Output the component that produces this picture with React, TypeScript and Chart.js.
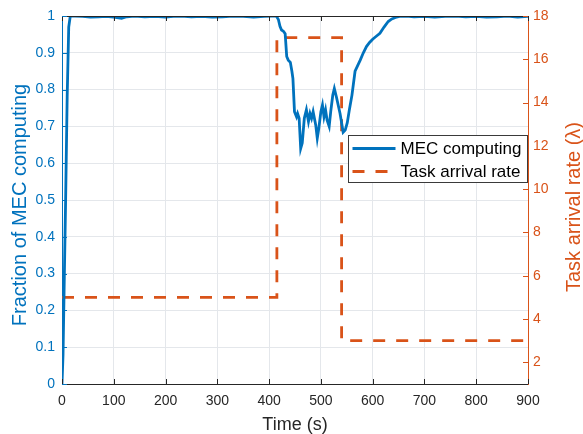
import React, { useEffect, useRef } from "react";
import { Chart, registerables } from "chart.js";

Chart.register(...registerables);

// MEC computing fraction over time
const mecTime = [
  0, 2, 4, 7, 10, 13, 16, 25, 40, 55, 70, 85, 100, 115, 125, 140, 160, 180, 200, 215, 230, 250,
  270, 290, 310, 330, 350, 370, 390, 405, 414, 418, 421, 424, 428, 431, 434, 437, 441, 444, 446,
  449, 453, 455, 458, 461, 464, 468, 472, 476, 479, 482, 485, 490, 493, 496, 500, 503, 506, 509,
  512, 516, 519, 523, 526, 530, 537, 543, 547, 551, 555, 560, 566, 571, 576, 582, 588, 594, 600,
  607, 614, 622, 630, 637, 644, 652, 665, 680, 700, 720, 740, 760, 780, 800, 820, 840, 860, 880, 900,
];
const mecFraction = [
  0, 0.08, 0.25, 0.5, 0.78, 0.97, 1, 1, 0.999, 0.997, 0.998, 0.999, 0.997, 0.994, 0.998, 1, 0.998,
  0.999, 0.997, 0.999, 1, 0.998, 0.999, 0.997, 0.998, 1, 0.999, 0.997, 0.999, 1, 1, 0.99, 0.972,
  0.962, 0.958, 0.952, 0.89, 0.88, 0.874, 0.85, 0.83, 0.74, 0.726, 0.735, 0.722, 0.64, 0.655,
  0.722, 0.745, 0.713, 0.735, 0.722, 0.74, 0.704, 0.668, 0.695, 0.74, 0.758, 0.726, 0.745, 0.717,
  0.7, 0.74, 0.785, 0.803, 0.78, 0.735, 0.684, 0.69, 0.71, 0.745, 0.785, 0.85, 0.865, 0.88, 0.9,
  0.917, 0.928, 0.937, 0.945, 0.953, 0.97, 0.985, 0.992, 0.996, 0.999, 1, 0.998, 0.999, 0.997,
  0.999, 1, 0.998, 0.999, 0.997, 0.998, 1, 0.997, 0.999,
];

// Task arrival rate (step profile)
const rateTime = [0, 415, 415, 540, 540, 900];
const rateValue = [5, 5, 17, 17, 3, 3];

const timeTicks = [0, 100, 200, 300, 400, 500, 600, 700, 800, 900];
const fractionTicks = [0, 0.1, 0.2, 0.3, 0.4, 0.5, 0.6, 0.7, 0.8, 0.9, 1];
const rateTicks = [2, 4, 6, 8, 10, 12, 14, 16, 18];

const xTitle = "Time (s)";
const yTitle = "Fraction of MEC computing";
const y1Title = "Task arrival rate (λ)";

const BLUE = "#0072BD";
const ORANGE = "#D95319";
const DARK = "#262626";
const GRID = "#e4e7eb";
const FONT = "'Liberation Sans', Arial, Helvetica, sans-serif";

const setTicks = (values: number[]) => (scale: any) => {
  scale.ticks = values.map((v) => ({ value: v }));
};
const plainLabel = (v: any) => String(Number(Number(v).toFixed(3)));

// Inward tick marks, top frame line, axis titles and an in-plot legend
const framePlugin = {
  id: "frame",
  afterDatasetsDraw(chart: any) {
    const { ctx, chartArea } = chart;
    const { left, right, top, bottom } = chartArea;
    const len = 5;
    ctx.save();
    ctx.lineWidth = 1;

    ctx.strokeStyle = DARK;
    ctx.beginPath();
    ctx.moveTo(left, top + 0.5);
    ctx.lineTo(right, top + 0.5);
    const xs = chart.scales.x;
    xs.ticks.forEach((t: any) => {
      const px = Math.round(xs.getPixelForValue(t.value)) + 0.5;
      ctx.moveTo(px, bottom);
      ctx.lineTo(px, bottom - len);
      ctx.moveTo(px, top);
      ctx.lineTo(px, top + len);
    });
    ctx.stroke();

    const ys = chart.scales.y;
    ctx.strokeStyle = BLUE;
    ctx.beginPath();
    ys.ticks.forEach((t: any) => {
      const py = Math.round(ys.getPixelForValue(t.value)) + 0.5;
      ctx.moveTo(left, py);
      ctx.lineTo(left + len, py);
    });
    ctx.stroke();

    const yr = chart.scales.y1;
    ctx.strokeStyle = ORANGE;
    ctx.beginPath();
    yr.ticks.forEach((t: any) => {
      const py = Math.round(yr.getPixelForValue(t.value)) + 0.5;
      ctx.moveTo(right, py);
      ctx.lineTo(right - len, py);
    });
    ctx.stroke();

    // axis titles
    ctx.textAlign = "center";
    ctx.textBaseline = "alphabetic";
    ctx.font = `18px ${FONT}`;
    ctx.fillStyle = DARK;
    ctx.fillText(xTitle, (left + right) / 2, bottom + 46);

    ctx.font = `20px ${FONT}`;
    ctx.fillStyle = BLUE;
    ctx.save();
    ctx.translate(left - 36.5, (top + bottom) / 2 + 5);
    ctx.rotate(-Math.PI / 2);
    ctx.fillText(yTitle, 0, 0);
    ctx.restore();

    ctx.fillStyle = ORANGE;
    ctx.save();
    ctx.translate(right + 51.5, (top + bottom) / 2 + 7);
    ctx.rotate(-Math.PI / 2);
    ctx.fillText(y1Title, 0, 0);
    ctx.restore();

    // legend box
    const boxW = 179;
    const boxH = 47;
    const bx = right - boxW - 0.5;
    const by = top + 119.5;
    ctx.fillStyle = "#ffffff";
    ctx.fillRect(bx, by, boxW, boxH);
    ctx.strokeStyle = "#3a3a3a";
    ctx.lineWidth = 1;
    ctx.strokeRect(bx, by, boxW, boxH);
    ctx.font = `17px ${FONT}`;
    ctx.textBaseline = "middle";
    ctx.textAlign = "left";
    chart.data.datasets.forEach((ds: any, i: number) => {
      const cy = by + 13 + i * 23;
      ctx.strokeStyle = ds.borderColor;
      ctx.lineWidth = ds.borderWidth;
      ctx.setLineDash(ds.borderDash || []);
      ctx.beginPath();
      ctx.moveTo(bx + 4, cy);
      ctx.lineTo(bx + 47, cy);
      ctx.stroke();
      ctx.setLineDash([]);
      ctx.fillStyle = "#000000";
      ctx.fillText(ds.label, bx + 52, cy + 1);
    });
    ctx.restore();
  },
};

export default function App() {
  const canvasRef = useRef<HTMLCanvasElement | null>(null);

  useEffect(() => {
    const canvas = canvasRef.current;
    if (!canvas) return;
    const chart = new Chart(canvas, {
      type: "line",
      data: {
        datasets: [
          {
            label: "MEC computing",
            data: mecTime.map((t, i) => ({ x: t, y: mecFraction[i] })),
            borderColor: BLUE,
            borderWidth: 2.8,
            pointRadius: 0,
            tension: 0,
            yAxisID: "y",
            fill: false,
          },
          {
            label: "Task arrival rate",
            data: rateTime.map((t, i) => ({ x: t, y: rateValue[i] })),
            borderColor: ORANGE,
            borderWidth: 2.8,
            borderDash: [12, 11],
            pointRadius: 0,
            tension: 0,
            yAxisID: "y1",
            fill: false,
          },
        ],
      },
      options: {
        animation: false,
        responsive: false,
        events: [],
        layout: { padding: { top: 16, left: 0, right: 0, bottom: 0 } },
        plugins: {
          legend: { display: false },
          tooltip: { enabled: false },
        },
        scales: {
          x: {
            type: "linear",
            min: 0,
            max: 900,
            afterBuildTicks: setTicks(timeTicks),
            afterFit: (s: any) => {
              s.height = 50;
            },
            grid: { color: GRID, drawTicks: false },
            border: { color: DARK, width: 1 },
            ticks: {
              color: DARK,
              font: { family: FONT, size: 14 },
              padding: 9,
              maxRotation: 0,
              callback: plainLabel,
            },
          },
          y: {
            type: "linear",
            position: "left",
            min: 0,
            max: 1,
            afterBuildTicks: setTicks(fractionTicks),
            afterFit: (s: any) => {
              s.width = 62;
            },
            grid: { color: GRID, drawTicks: false },
            border: { color: BLUE, width: 1 },
            ticks: { color: BLUE, font: { family: FONT, size: 14 }, padding: 7, callback: plainLabel },
          },
          y1: {
            type: "linear",
            position: "right",
            min: 1,
            max: 18,
            afterBuildTicks: setTicks(rateTicks),
            afterFit: (s: any) => {
              s.width = 55;
            },
            grid: { drawOnChartArea: false, drawTicks: false },
            border: { color: ORANGE, width: 1 },
            ticks: { color: ORANGE, font: { family: FONT, size: 14 }, padding: 5, callback: plainLabel },
          },
        },
      },
      plugins: [framePlugin],
    } as any);
    return () => chart.destroy();
  }, []);

  return (
    <div style={{ position: "fixed", left: 0, top: 0, width: 583, height: 434, background: "#fff" }}>
      <canvas ref={canvasRef} width={583} height={434} />
    </div>
  );
}
